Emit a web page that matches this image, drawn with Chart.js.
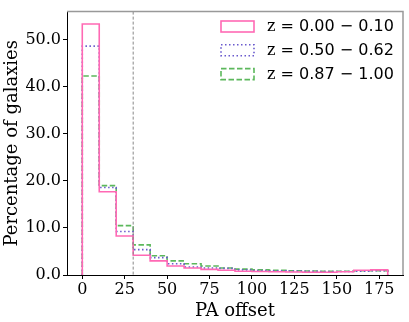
<!DOCTYPE html>
<html>
<head>
<meta charset="utf-8">
<script src="https://cdn.jsdelivr.net/npm/chart.js@4/dist/chart.umd.min.js"></script>
<style>
  html, body { margin: 0; padding: 0; background: #fff; }
  #wrap { width: 409px; height: 322px; }
</style>
</head>
<body>
<div id="wrap"><canvas id="hist" width="409" height="322"></canvas></div>
<script>
// --- DATA ---
const binEdges = [0, 10, 20, 30, 40, 50, 60, 70, 80, 90, 100, 110, 120, 130, 140, 150, 160, 170, 180];
const seriesLabels = ['0.00 \u2212 0.10', '0.50 \u2212 0.62', '0.87 \u2212 1.00'];
const lowZ  = [53.35, 17.7, 8.3, 4.2, 3.0, 1.9, 1.5, 1.2, 1.0, 0.8, 0.76, 0.7, 0.65, 0.6, 0.6, 0.7, 1.0, 1.1];
const midZ  = [48.65, 18.6, 9.25, 5.4, 3.7, 2.4, 1.7, 1.5, 1.4, 1.1, 0.95, 0.9, 0.85, 0.8, 0.75, 0.75, 0.8, 0.9];
const highZ = [42.3, 19.0, 10.5, 6.4, 4.1, 3.0, 2.4, 1.9, 1.5, 1.24, 1.1, 1.0, 0.9, 0.85, 0.8, 0.8, 0.9, 0.9];
const xTicks = [0, 25, 50, 75, 100, 125, 150, 175];
const yTicks = [0, 10, 20, 30, 40, 50];
const cutLine = 30;

const SERIF = '"DejaVu Serif", serif';
const SANS = '"DejaVu Sans", sans-serif';

// step outline like matplotlib histtype='step'
function stepPoints(values) {
    const pts = [{ x: binEdges[0], y: 0 }];
    values.forEach((v, i) => pts.push({ x: binEdges[i + 1], y: v }));
    pts.push({ x: binEdges[binEdges.length - 1], y: 0 });
    return pts;
}

const styles = [
    { color: '#ff69b4', dash: [] },
    { color: '#6a5acd', dash: [1.5, 2.5] },
    { color: '#5cb85c', dash: [5.5, 2.5] },
];

// chart.js 'after' = vertical first, then horizontal (matches these points)
const datasets = [lowZ, midZ, highZ].map((vals, i) => ({
    label: seriesLabels[i],
    data: stepPoints(vals),
    stepped: 'after',
    borderColor: styles[i].color,
    borderDash: styles[i].dash,
    borderWidth: 1.6,
    pointRadius: 0,
    fill: false,
}));

// --- PLUGINS ---
const framePlugin = {
    id: 'frame',
    afterDatasetsDraw(chart) {
        const { ctx, chartArea: a, scales } = chart;
        ctx.save();
        // vertical cut line
        const xp = scales.x.getPixelForValue(cutLine);
        ctx.strokeStyle = '#888';
        ctx.lineWidth = 1;
        ctx.setLineDash([3, 2]);
        ctx.beginPath();
        ctx.moveTo(xp, a.top);
        ctx.lineTo(xp, a.bottom);
        ctx.stroke();
        // top + right spines
        ctx.setLineDash([]);
        ctx.strokeStyle = '#999';
        ctx.lineWidth = 1.5;
        ctx.beginPath();
        ctx.moveTo(a.left, a.top);
        ctx.lineTo(a.right, a.top);
        ctx.lineTo(a.right, a.bottom);
        ctx.stroke();
        ctx.restore();
    }
};

const legendPlugin = {
    id: 'boxLegend',
    afterDraw(chart) {
        const { ctx } = chart;
        ctx.save();
        chart.data.datasets.forEach((ds, i) => {
            const y = 26.5 + i * 23.8;
            ctx.setLineDash(ds.borderDash);
            ctx.strokeStyle = ds.borderColor;
            ctx.lineWidth = 1.6;
            ctx.strokeRect(221, y - 5.5, 33, 11);
            ctx.setLineDash([]);
            ctx.fillStyle = '#000';
            ctx.textBaseline = 'middle';
            ctx.font = '16px ' + SERIF;
            ctx.fillText('z', 267, y + 0.5);
            const zw = ctx.measureText('z').width;
            ctx.font = '16px ' + SANS;
            ctx.fillText(' = ' + ds.label, 267 + zw, y + 0.5);
        });
        ctx.restore();
    }
};

// --- CHART ---
new Chart(document.getElementById('hist'), {
    type: 'line',
    data: { datasets },
    options: {
        responsive: false,
        animation: false,
        layout: { padding: { top: 5, right: 6, left: 2, bottom: 0 } },
        plugins: { legend: { display: false }, tooltip: { enabled: false } },
        scales: {
            x: {
                type: 'linear',
                min: -9,
                max: 189,
                afterBuildTicks: s => { s.ticks = xTicks.map(v => ({ value: v })); },
                afterFit: s => { s.height = 47; },
                grid: { drawOnChartArea: false, tickLength: 4, tickColor: '#000' },
                border: { color: '#000', width: 1 },
                ticks: { color: '#000', font: { family: SERIF, size: 16 }, padding: 1, maxRotation: 0 },
                title: { display: true, text: 'PA offset', color: '#000', font: { family: SERIF, size: 18 }, padding: { top: -2, bottom: 0 } },
            },
            y: {
                type: 'linear',
                min: 0,
                max: 56,
                afterBuildTicks: s => { s.ticks = yTicks.map(v => ({ value: v })); },
                afterFit: s => { s.width = 65; },
                grid: { drawOnChartArea: false, tickLength: 4, tickColor: '#000' },
                border: { color: '#000', width: 1 },
                ticks: { color: '#000', font: { family: SERIF, size: 16 }, padding: 2, callback: v => v.toFixed(1) },
                title: { display: true, text: 'Percentage of galaxies', color: '#000', font: { family: SERIF, size: 18 }, padding: { top: 0, bottom: 0 } },
            }
        }
    },
    plugins: [framePlugin, legendPlugin]
});
</script>
</body>
</html>
